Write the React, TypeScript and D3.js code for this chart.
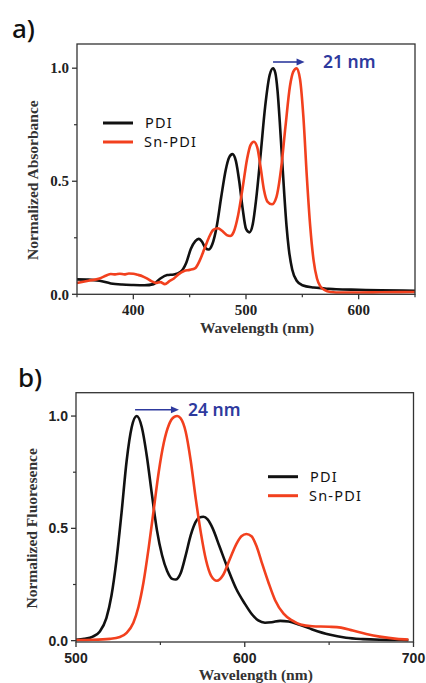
import React from "react";
import * as d3 from "d3";

// ---- Panel a: absorbance ----
const absWavelengthPDI = [350, 360, 370, 380, 390, 400, 410, 418, 424, 430, 436, 442, 447, 451, 455, 458, 461, 464, 467, 470, 474, 478, 482, 485, 488, 491, 494, 497, 500, 503, 506, 509, 513, 517, 521, 524, 526, 528, 530, 532, 534, 536, 538, 541, 545, 550, 560, 570, 580, 600, 620, 650];
const absPDI = [0.066, 0.065, 0.06, 0.048, 0.043, 0.041, 0.04, 0.045, 0.07, 0.085, 0.088, 0.1, 0.14, 0.2, 0.235, 0.245, 0.232, 0.205, 0.198, 0.22, 0.3, 0.43, 0.55, 0.605, 0.62, 0.59, 0.5, 0.38, 0.29, 0.274, 0.31, 0.42, 0.62, 0.83, 0.97, 1.0, 0.98, 0.9, 0.76, 0.6, 0.44, 0.3, 0.2, 0.11, 0.06, 0.04, 0.03, 0.026, 0.022, 0.02, 0.018, 0.016];

const absWavelengthSn = [350, 360, 370, 376, 380, 384, 388, 392, 396, 400, 404, 408, 412, 416, 420, 424, 428, 432, 436, 440, 445, 450, 455, 459, 463, 467, 471, 475, 479, 483, 486, 489, 493, 497, 501, 504, 507, 510, 513, 516, 519, 523, 527, 531, 535, 539, 542, 545, 548, 551, 554, 557, 560, 563, 566, 570, 575, 580, 600, 620, 650];
const absSn = [0.05, 0.06, 0.07, 0.083, 0.09, 0.088, 0.091, 0.088, 0.092, 0.091, 0.086, 0.08, 0.07, 0.058, 0.05, 0.054, 0.045, 0.058, 0.07, 0.088, 0.103, 0.108, 0.116, 0.15, 0.2, 0.25, 0.285, 0.292, 0.28, 0.262, 0.258, 0.275, 0.35, 0.47, 0.6, 0.66, 0.675, 0.65, 0.56, 0.46, 0.41, 0.398, 0.43, 0.55, 0.74, 0.92, 0.985, 1.0, 0.95, 0.78, 0.52, 0.3, 0.15, 0.07, 0.035, 0.018, 0.01, 0.008, 0.008, 0.009, 0.01];

// ---- Panel b: fluorescence ----
const flWavelengthPDI = [500, 505, 510, 514, 518, 521, 524, 527, 530, 533, 536, 539, 542, 545, 548, 551, 554, 557, 559, 562, 565, 568, 571, 573, 575.5, 578, 581, 585, 590, 595, 600, 604, 608, 612, 616, 621, 626, 632, 640, 650, 660, 670, 680, 690, 697];
const flPDI = [0.004, 0.008, 0.018, 0.04, 0.1, 0.2, 0.36, 0.57, 0.8, 0.95, 1.0, 0.95, 0.82, 0.65, 0.49, 0.38, 0.31, 0.275, 0.272, 0.3, 0.38, 0.47, 0.53, 0.548, 0.552, 0.54, 0.5, 0.42, 0.32, 0.23, 0.165, 0.12, 0.09, 0.08, 0.082, 0.088, 0.085, 0.072, 0.05, 0.027, 0.013, 0.007, 0.004, 0.003, 0.002];

const flWavelengthSn = [500, 510, 520, 526, 530, 534, 537, 540, 543, 546, 549, 552, 555, 558, 560, 562, 565, 568, 571, 574, 577, 580, 583.5, 587, 591, 595, 598, 601, 604, 607, 610, 614, 618, 623, 628, 633, 640, 650, 657, 664, 672, 680, 690, 697];
const flSn = [0.003, 0.004, 0.008, 0.016, 0.035, 0.08, 0.15, 0.26, 0.41, 0.58, 0.75, 0.88, 0.96, 0.995, 1.0, 0.99, 0.93, 0.8, 0.63, 0.48, 0.36, 0.29, 0.267, 0.29, 0.36, 0.43, 0.465, 0.475, 0.465, 0.42, 0.35, 0.26, 0.18, 0.12, 0.09, 0.072, 0.064, 0.062, 0.058, 0.045, 0.03, 0.018, 0.008, 0.005];

const legendLabels = ["PDI", "Sn-PDI"];
const absXTicks = [400, 500, 600];
const absXMinor = [350, 450, 550, 650];
const flXTicks = [500, 600, 700];
const flXMinor = [550, 650];
const yTicks = [0, 0.5, 1.0];
const yMinor = [0.25, 0.75];

const BLACK = "#111111";
const RED = "#f2401e";
const BLUE = "#2e3a9e";

type PanelProps = {
  top: number;
  bottom: number;
  left: number;
  right: number;
  xDomain: [number, number];
  yDomain: [number, number];
  xTicks: number[];
  xMinor: number[];
  tickFont: string;
  tickSize: number;
  yTitle: string;
  series: { x: number[]; y: number[]; color: string }[];
  legendX: number;
  legendY: number;
  arrow: { from: number; to: number; y: number; label: string; labelX: number };
  letter: string;
  letterX: number;
  letterY: number;
  tickLabelY: number;
  titleY: number;
};

function Panel(p: PanelProps) {
  const x = d3.scaleLinear().domain(p.xDomain).range([p.left, p.right]);
  const y = d3.scaleLinear().domain(p.yDomain).range([p.bottom, p.top]);
  const line = d3
    .line<[number, number]>()
    .x((d) => x(d[0]))
    .y((d) => y(d[1]))
    .curve(d3.curveMonotoneX);
  const tickLen = 5;
  return (
    <g>
      <text x={p.letterX} y={p.letterY} fontFamily="'Noto Sans', sans-serif" fontWeight="500" fontSize={26} fill="#111">
        {p.letter}
      </text>
      {p.series.map((s, i) => (
        <path
          key={i}
          d={line(s.x.map((v, j) => [v, s.y[j]] as [number, number])) || ""}
          fill="none"
          stroke={s.color}
          strokeWidth={2.6}
          strokeLinejoin="round"
        />
      ))}
      <rect x={p.left} y={p.top} width={p.right - p.left} height={p.bottom - p.top} fill="none" stroke="#333" strokeWidth={1.3} />
      {p.xTicks.map((t) => (
        <g key={"xt" + t}>
          <line x1={x(t)} x2={x(t)} y1={p.bottom} y2={p.bottom + tickLen} stroke="#333" strokeWidth={1.3} />
          <text x={x(t)} y={p.tickLabelY} textAnchor="middle" fontFamily={p.tickFont} fontWeight="bold" fontSize={p.tickSize} fill="#222">
            {t}
          </text>
        </g>
      ))}
      {p.xMinor.map((t) => (
        <line key={"xm" + t} x1={x(t)} x2={x(t)} y1={p.bottom} y2={p.bottom + 3} stroke="#333" strokeWidth={1.2} />
      ))}
      {yTicks.map((t) => (
        <g key={"yt" + t}>
          <line x1={p.left - tickLen} x2={p.left} y1={y(t)} y2={y(t)} stroke="#333" strokeWidth={1.3} />
          <text x={p.left - 8} y={y(t)} dy="0.35em" textAnchor="end" fontFamily={p.tickFont} fontWeight="bold" fontSize={p.tickSize} fill="#222">
            {d3.format(".1f")(t)}
          </text>
        </g>
      ))}
      {yMinor.map((t) => (
        <line key={"ym" + t} x1={p.left - 3} x2={p.left} y1={y(t)} y2={y(t)} stroke="#333" strokeWidth={1.2} />
      ))}
      <text
        transform={`translate(${p.left - 39},${(p.top + p.bottom) / 2 + 11}) rotate(-90)`}
        textAnchor="middle"
        fontFamily="'Liberation Serif', 'Times New Roman', serif"
        fontWeight="bold"
        fontSize={15.5}
        fill="#333"
      >
        {p.yTitle}
      </text>
      <text
        x={(p.left + p.right) / 2 + 11}
        y={p.titleY}
        textAnchor="middle"
        fontFamily="'Liberation Serif', 'Times New Roman', serif"
        fontWeight="bold"
        fontSize={15.5}
        fill="#333"
      >
        Wavelength (nm)
      </text>
      {legendLabels.map((lab, i) => (
        <g key={lab}>
          <line
            x1={p.legendX}
            x2={p.legendX + 30}
            y1={p.legendY + i * 19}
            y2={p.legendY + i * 19}
            stroke={p.series[i].color}
            strokeWidth={3}
          />
          <text
            x={p.legendX + 42 - (i === 1 ? 1 : 0)}
            y={p.legendY + i * 19}
            dy="0.36em"
            fontFamily="'Noto Sans', sans-serif"
            fontSize={14.5}
            letterSpacing={1.2}
            fill="#111"
          >
            {lab}
          </text>
        </g>
      ))}
      <line x1={x(p.arrow.from)} x2={x(p.arrow.to) - 6} y1={p.arrow.y} y2={p.arrow.y} stroke={BLUE} strokeWidth={1.6} />
      <path
        d={`M${x(p.arrow.to)},${p.arrow.y} L${x(p.arrow.to) - 8},${p.arrow.y - 3.5} L${x(p.arrow.to) - 8},${p.arrow.y + 3.5} Z`}
        fill={BLUE}
      />
      <text x={p.arrow.labelX} y={p.arrow.y} dy="0.36em" fontFamily="'Noto Sans', sans-serif" fontWeight="600" fontSize={17.5} fill={BLUE}>
        {p.arrow.label}
      </text>
    </g>
  );
}

export default function App() {
  return (
    <svg width={426} height={683} style={{ display: "block", position: "absolute", left: 0, top: 0, background: "#fff" }}>
      <Panel
        top={44}
        bottom={294.3}
        left={77}
        right={415}
        xDomain={[350, 650]}
        yDomain={[0, 1.107]}
        xTicks={absXTicks}
        xMinor={absXMinor}
        tickFont="'Liberation Serif', 'Times New Roman', serif"
        tickSize={15}
        yTitle="Normalized Absorbance"
        series={[
          { x: absWavelengthPDI, y: absPDI, color: BLACK },
          { x: absWavelengthSn, y: absSn, color: RED },
        ]}
        legendX={103}
        legendY={123}
        arrow={{ from: 524, to: 552, y: 62, label: "21 nm", labelX: 323 }}
        letter="a)"
        letterX={12}
        letterY={38}
        tickLabelY={315}
        titleY={333}
      />
      <Panel
        top={392.7}
        bottom={642}
        left={76}
        right={413.5}
        xDomain={[500, 700]}
        yDomain={[-0.006, 1.104]}
        xTicks={flXTicks}
        xMinor={flXMinor}
        tickFont="'Liberation Sans', Arial, sans-serif"
        tickSize={14}
        yTitle="Normalized Fluoresence"
        series={[
          { x: flWavelengthPDI, y: flPDI, color: BLACK },
          { x: flWavelengthSn, y: flSn, color: RED },
        ]}
        legendX={268}
        legendY={476.7}
        arrow={{ from: 535, to: 561, y: 409.7, label: "24 nm", labelX: 188 }}
        letter="b)"
        letterX={18}
        letterY={387}
        tickLabelY={663}
        titleY={680}
      />
    </svg>
  );
}
